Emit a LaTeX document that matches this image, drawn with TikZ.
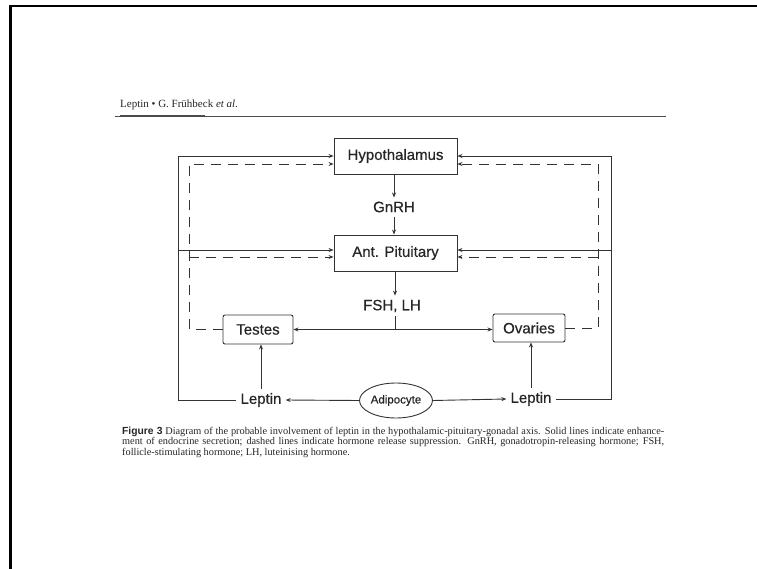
\documentclass[tikz,border=0pt]{standalone}
\usepackage{fontspec}
\setmainfont{Liberation Serif}
\newfontfamily\diagfont[FakeBold=0.5]{Liberation Sans}
\newfontfamily\figfont{Liberation Sans}
\usetikzlibrary{arrows.meta,shapes.geometric}
\begin{document}
\begin{tikzpicture}[x=1pt,y=-1pt,
  ln/.style={draw=black!80, line width=0.9pt},
  tip/.style={-{Stealth[length=5pt,width=4pt]}},
  supline/.style={dash pattern=on 10pt off 7pt},
  box/.style={draw=black!80, line width=0.9pt, fill=white, font=\diagfont\fontsize{15}{18}\selectfont, text=black!85, inner sep=0pt},
  lbl/.style={font=\diagfont\fontsize{15}{18}\selectfont, text=black!85, inner sep=4pt}
]
\useasboundingbox (0,0) rectangle (757,569);
\fill[white] (0,0) rectangle (757,569);
% page frame
\draw[line width=2.5pt] (757,6.2) -- (10.3,6.2) -- (10.3,569);
% header
\node[anchor=base west, inner sep=0, font=\fontsize{11}{12}\selectfont, text=black!85] (hdr) at (120,108) {Leptin • G. Frühbeck \textit{et al.}};
\draw[black!70, line width=0.8pt] (115,116) -- (666,116);
\draw[black!70, line width=1.4pt] (120,116) -- (205,116);
% nodes
\node[box, minimum width=123pt, minimum height=36pt] (hyp) at (395.5,156) {Hypothalamus};
\node[box, minimum width=123pt, minimum height=36pt] (pit) at (395.5,253) {Ant. Pituitary};
\node[box, rounded corners=2pt, minimum width=70pt, minimum height=29pt] (tes) at (258,329.5) {Testes};
\node[box, rounded corners=2pt, minimum width=72pt, minimum height=28pt] (ova) at (529,328) {Ovaries};
\node[draw=black!80, line width=0.9pt, ellipse, inner sep=0pt, minimum width=73pt, minimum height=35pt, font=\diagfont\fontsize{11.5}{14}\selectfont, text=black!85] (adi) at (396,400.5) {Adipocyte};
\node[lbl] (gnrh) at (394,207) {GnRH};
\node[lbl] (fsh) at (392,306) {FSH, LH};
\node[lbl] (lepL) at (261,400) {Leptin};
\node[lbl] (lepR) at (531,399) {Leptin};
% coordinates
\coordinate (cLB) at (178,400);
\coordinate (cLT) at (178,156);
\coordinate (cLM) at (178,250);
\coordinate (cRB) at (611,399);
\coordinate (cRT) at (611,156);
\coordinate (cRM) at (611,250);
\coordinate (dLB) at (189,329.5);
\coordinate (dLT) at (189,164);
\coordinate (dLM) at (189,257);
\coordinate (dRB) at (598,328);
\coordinate (dRT) at (598,164);
\coordinate (dRM) at (598,257);
\coordinate (jn) at (395,329.5);
% solid: enhancement
\draw[ln,tip] (lepL.west) -- (cLB) -- (cLT) -- (cLT -| hyp.west);
\draw[ln,tip] (cLM) -- (cLM -| pit.west);
\draw[ln,tip] (lepR.east) -- (cRB) -- (cRT) -- (cRT -| hyp.east);
\draw[ln,tip] (cRM) -- (cRM -| pit.east);
% dashed: suppression
\draw[ln,supline,tip] (tes.west) -- (dLB) -- (dLT) -- (dLT -| hyp.west);
\draw[ln,supline,tip] (dLM) -- (dLM -| pit.west);
\draw[ln,supline,tip] (ova.east) -- (dRB) -- (dRT) -- (dRT -| hyp.east);
\draw[ln,supline,tip] (dRM) -- (dRM -| pit.east);
% axis
\draw[ln,tip] (gnrh.north |- hyp.south) -- (gnrh.north);
\draw[ln,tip] (gnrh.south) -- (gnrh.south |- pit.north);
\draw[ln,tip] (jn |- pit.south) -- (jn |- fsh.north);
\draw[ln] (jn |- fsh.south) -- (jn);
\draw[ln,tip] (jn) -- (tes.east);
\draw[ln,tip] (jn) -- (jn -| ova.west);
% adipocyte
\draw[ln,tip] (adi.west) -- (lepL.east);
\draw[ln,tip] (adi.east) -- (lepR.west);
\draw[ln,tip] (lepL.north) -- (lepL.north |- tes.south);
\draw[ln,tip] (lepR.north) -- (lepR.north |- ova.south);
% caption
\node[anchor=north west, inner sep=0pt, text width=542pt, align=justify, font=\fontsize{10.3}{10.6}\selectfont, text=black!85] (cap) at (122,426.5)
{{\figfont\bfseries Figure 3} Diagram of the probable involvement of leptin in the hypothalamic-pituitary-gonadal axis. Solid lines indicate enhance-\linebreak ment of endocrine secretion; dashed lines indicate hormone release suppression. GnRH, gonadotropin-releasing hormone; FSH,\linebreak follicle-stimulating hormone; LH, luteinising hormone.};
\end{tikzpicture}
\end{document}
